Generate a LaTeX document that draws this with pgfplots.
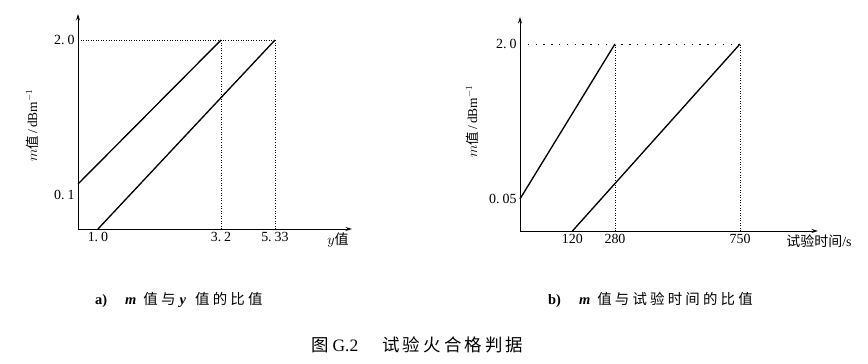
\documentclass[border=0pt]{standalone}
\usepackage{fontspec}
\setmainfont{Liberation Serif}
\newfontfamily\cjk{Noto Sans CJK SC}
\newfontfamily\cjkcap[LetterSpace=22]{Noto Sans CJK SC}
\newfontfamily\cjktitle[LetterSpace=18]{Noto Sans CJK SC}
\newcommand\zh[1]{{\cjk #1}}
\newcommand\dt{.\hspace{3bp}}
\usepackage{pgfplots}
\pgfplotsset{compat=1.18}
\usetikzlibrary{arrows.meta}
\pgfplotsset{myax/.style={
  scale only axis, axis lines=left,
  axis line style={line width=1.0bp, -{Stealth[length=6.5bp,width=4bp]}},
  xminorticks=false, yminorticks=false,
  major tick length=0pt,
  tick label style={font=\fontsize{14}{14}\selectfont},
  clip=false,
}}
\begin{document}
\begin{tikzpicture}
\path[use as bounding box] (0bp,0bp) rectangle (868bp,364bp);
% ---- left panel ----
\begin{axis}[myax, at={(78bp,135bp)}, anchor=south west,
  width=274bp, height=215bp,
  xmode=log, ymode=log,
  xmin=0.828, xmax=11.04, ymin=0.0518, ymax=3.31,
  xtick={1,3.2,5.33}, xticklabels={1\dt0,3\dt2,5\dt33},
  ytick={0.1,2}, yticklabels={0\dt1,2\dt0}]
\addplot[black, line width=1.35bp] coordinates {(0.828,0.1237) (3.2,2.0)};
\addplot[black, line width=1.35bp] coordinates {(1.0,0.0518) (5.33,2.0)};
\addplot[black, line width=0.55bp, dotted] coordinates {(0.828,2.0) (5.33,2.0)};
\addplot[black, line width=0.55bp, dotted] coordinates {(3.2,0.0518) (3.2,2.0)};
\addplot[black, line width=0.55bp, dotted] coordinates {(5.33,0.0518) (5.33,2.0)};
\end{axis}
% ---- right panel ----
\begin{axis}[myax, at={(520bp,133bp)}, anchor=south west,
  width=298bp, height=214bp,
  ymode=log,
  xmin=-77, xmax=1043, ymin=0.0233, ymax=3.80,
  xtick={120,280,750}, xticklabels={120,280,750},
  ytick={0.05,2}, yticklabels={0\dt05,2\dt0}]
\addplot[black, line width=1.35bp] coordinates {(-77,0.05) (280,2.0)};
\addplot[black, line width=1.35bp] coordinates {(120,0.0233) (750,2.0)};
\addplot[black, line width=0.55bp, dash pattern=on 1.3bp off 6.5bp] coordinates {(-77,2.0) (750,2.0)};
\addplot[black, line width=0.55bp, dotted] coordinates {(280,0.0233) (280,2.0)};
\addplot[black, line width=0.55bp, dotted] coordinates {(750,0.0233) (750,2.0)};
\end{axis}
% ---- axis labels ----
\node[rotate=90, font=\fontsize{13.5}{13.5}\selectfont] at (32bp,238.5bp) {$m$\zh{值}\,/\,dBm$^{-1}$};
\node[rotate=90, font=\fontsize{13.5}{13.5}\selectfont] at (472bp,242.5bp) {$m$\zh{值}\,/\,dBm$^{-1}$};
\node[font=\fontsize{14}{14}\selectfont] at (338bp,124bp) {$y$\zh{值}};
\node[font=\fontsize{14}{14}\selectfont] at (819bp,123bp) {\zh{试验时间}/s};
% ---- captions ----
\node[anchor=west, font=\fontsize{14.5}{14.5}\selectfont, inner sep=0pt] at (95bp,64bp)
  {\textbf{a)}\hspace{18bp}\textbf{\textit{m}}\hspace{7bp}{\cjkcap 值与}\hspace{1bp}\textbf{\textit{y}}\hspace{9bp}{\cjkcap 值的比值}};
\node[anchor=west, font=\fontsize{14.5}{14.5}\selectfont, inner sep=0pt] at (548bp,64bp)
  {\textbf{b)}\hspace{18bp}\textbf{\textit{m}}\hspace{7bp}{\cjkcap 值与试验时间的比值}};
\node[anchor=west, font=\fontsize{17.5}{17.5}\selectfont, inner sep=0pt] at (311bp,19bp)
  {\zh{图}\hspace{4bp}G.2\hspace{24bp}{\cjktitle 试验火合格判据}};
\end{tikzpicture}
\end{document}
